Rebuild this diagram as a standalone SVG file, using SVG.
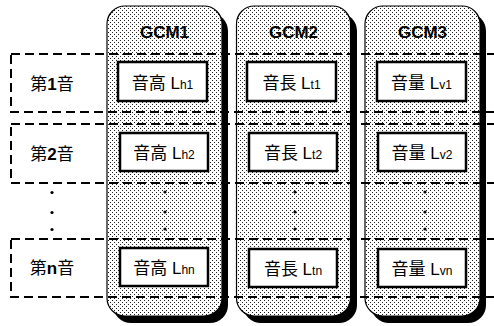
<svg xmlns="http://www.w3.org/2000/svg" width="494" height="326" viewBox="0 0 494 326">
<defs>
<pattern id="dots" width="4" height="4" patternUnits="userSpaceOnUse">
<rect width="4" height="4" fill="#fff"/>
<rect x="0" y="0" width="1" height="1" fill="#222"/>
<rect x="2" y="2" width="1" height="1" fill="#222"/>
</pattern>
<style>
.col{fill:url(#dots);stroke:#000;stroke-width:1.2}
.row{fill:none;stroke:#000;stroke-width:2;stroke-dasharray:9 5}
.box{fill:#fff;stroke:#000;stroke-width:2.5}
.title{font-family:"Liberation Sans",Arial,sans-serif;font-weight:bold;font-size:17px;text-anchor:middle}
.lbl{font-family:"Liberation Sans","Noto Sans CJK JP",sans-serif;font-size:17px;text-anchor:middle}
.sub{font-size:12px}
.dot{fill:#000}
</style>
</defs>
<rect width="494" height="326" fill="#fff"/>
<g id="GCM1">
<rect fill="#000" stroke="none" x="113" y="13" width="115" height="310" rx="18"/>
<rect class="col" x="107" y="6" width="115" height="310" rx="18"/>
<text class="title" x="164.5" y="38">GCM1</text>
</g>
<g id="GCM2">
<rect fill="#000" stroke="none" x="243" y="13" width="114" height="310" rx="18"/>
<rect class="col" x="236.5" y="6" width="114" height="310" rx="18"/>
<text class="title" x="293.5" y="38">GCM2</text>
</g>
<g id="GCM3">
<rect fill="#000" stroke="none" x="371" y="13" width="115" height="310" rx="18"/>
<rect class="col" x="365" y="6" width="115" height="310" rx="18"/>
<text class="title" x="422.5" y="38">GCM3</text>
</g>
<g id="row1">
<rect class="row" x="11" y="54" width="500" height="58"/>
<text class="lbl" x="52" y="90">第<tspan font-weight="bold">1</tspan>音</text>
</g>
<g id="row2">
<rect class="row" x="11" y="124" width="500" height="59"/>
<text class="lbl" x="52" y="160">第<tspan font-weight="bold">2</tspan>音</text>
</g>
<g id="rown">
<rect class="row" x="11" y="239" width="500" height="58"/>
<text class="lbl" x="52" y="274">第<tspan font-weight="bold">n</tspan>音</text>
</g>
<g id="ellipses">
<circle class="dot" cx="52" cy="192.5" r="1.6"/><circle class="dot" cx="52" cy="212.5" r="1.6"/><circle class="dot" cx="52" cy="229.5" r="1.6"/>
<circle class="dot" cx="165" cy="192" r="1.6"/><circle class="dot" cx="165" cy="212" r="1.6"/><circle class="dot" cx="165" cy="229" r="1.6"/>
<circle class="dot" cx="295" cy="192" r="1.6"/><circle class="dot" cx="295" cy="212" r="1.6"/><circle class="dot" cx="295" cy="229" r="1.6"/>
<circle class="dot" cx="425" cy="192" r="1.6"/><circle class="dot" cx="425" cy="212" r="1.6"/><circle class="dot" cx="425" cy="229" r="1.6"/>
</g>
<g id="box-h1"><rect class="box" x="118" y="62" width="89" height="39"/><text class="lbl" x="162.5" y="89">音高 L<tspan class="sub">h1</tspan></text></g>
<g id="box-t1"><rect class="box" x="247" y="62" width="89" height="39"/><text class="lbl" x="291.5" y="89">音長 L<tspan class="sub">t1</tspan></text></g>
<g id="box-v1"><rect class="box" x="377" y="62" width="89" height="39"/><text class="lbl" x="421.5" y="89">音量 L<tspan class="sub">v1</tspan></text></g>
<g id="box-h2"><rect class="box" x="120" y="133" width="88" height="38"/><text class="lbl" x="164" y="159">音高 L<tspan class="sub">h2</tspan></text></g>
<g id="box-t2"><rect class="box" x="249" y="133" width="88" height="38"/><text class="lbl" x="293" y="159">音長 L<tspan class="sub">t2</tspan></text></g>
<g id="box-v2"><rect class="box" x="378" y="133" width="88" height="38"/><text class="lbl" x="422" y="159">音量 L<tspan class="sub">v2</tspan></text></g>
<g id="box-hn"><rect class="box" x="120" y="248" width="88" height="38"/><text class="lbl" x="164" y="274">音高 L<tspan class="sub">hn</tspan></text></g>
<g id="box-tn"><rect class="box" x="249" y="249" width="88" height="38"/><text class="lbl" x="293" y="275">音長 L<tspan class="sub">tn</tspan></text></g>
<g id="box-vn"><rect class="box" x="378" y="249" width="88" height="38"/><text class="lbl" x="422" y="275">音量 L<tspan class="sub">vn</tspan></text></g>
</svg>
